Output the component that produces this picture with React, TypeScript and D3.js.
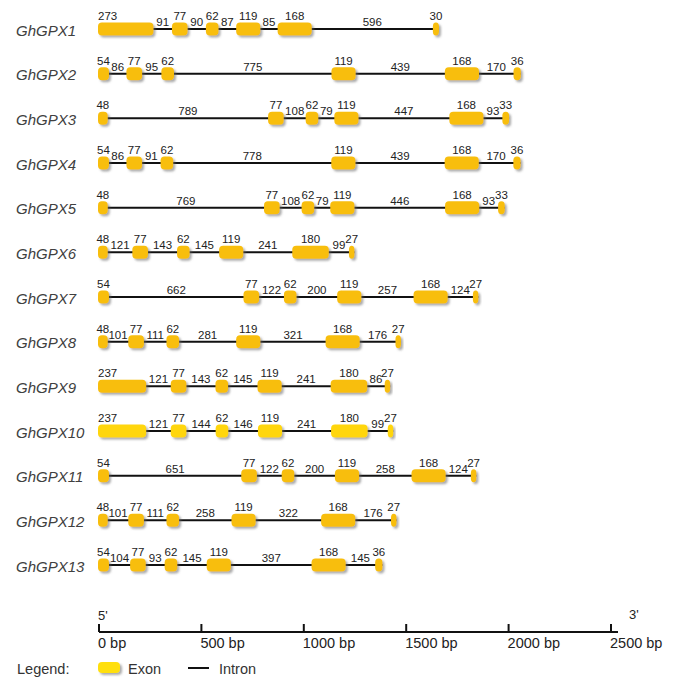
import React from "react";
import * as d3 from "d3";

const geneNames = [
  "GhGPX1", "GhGPX2", "GhGPX3", "GhGPX4", "GhGPX5", "GhGPX6", "GhGPX7",
  "GhGPX8", "GhGPX9", "GhGPX10", "GhGPX11", "GhGPX12", "GhGPX13",
];

// alternating exon / intron lengths (bp), starting and ending with an exon
const GhGPX1 = [273, 91, 77, 90, 62, 87, 119, 85, 168, 596, 30];
const GhGPX2 = [54, 86, 77, 95, 62, 775, 119, 439, 168, 170, 36];
const GhGPX3 = [48, 789, 77, 108, 62, 79, 119, 447, 168, 93, 33];
const GhGPX4 = [54, 86, 77, 91, 62, 778, 119, 439, 168, 170, 36];
const GhGPX5 = [48, 769, 77, 108, 62, 79, 119, 446, 168, 93, 33];
const GhGPX6 = [48, 121, 77, 143, 62, 145, 119, 241, 180, 99, 27];
const GhGPX7 = [54, 662, 77, 122, 62, 200, 119, 257, 168, 124, 27];
const GhGPX8 = [48, 101, 77, 111, 62, 281, 119, 321, 168, 176, 27];
const GhGPX9 = [237, 121, 77, 143, 62, 145, 119, 241, 180, 86, 27];
const GhGPX10 = [237, 121, 77, 144, 62, 146, 119, 241, 180, 99, 27];
const GhGPX11 = [54, 651, 77, 122, 62, 200, 119, 258, 168, 124, 27];
const GhGPX12 = [48, 101, 77, 111, 62, 258, 119, 322, 168, 176, 27];
const GhGPX13 = [54, 104, 77, 93, 62, 145, 119, 397, 168, 145, 36];

const structures = [
  GhGPX1, GhGPX2, GhGPX3, GhGPX4, GhGPX5, GhGPX6, GhGPX7,
  GhGPX8, GhGPX9, GhGPX10, GhGPX11, GhGPX12, GhGPX13,
];

const axisTicks = [0, 500, 1000, 1500, 2000, 2500];
const axisMax = 2500;
const brightGenes = ["GhGPX10"];

const W = 685;
const H = 688;
const FONT = "'Liberation Sans', Arial, sans-serif";
const EXON = "#F8BE0A";
const EXON_BRIGHT = "#FFD60A";

export default function App() {
  const x = d3.scaleLinear().domain([0, axisMax]).range([98, 606]);
  const xa = d3.scaleLinear().domain([0, axisMax]).range([99, 611]);
  const y = d3.scalePoint<string>().domain(geneNames).range([29, 565]);
  const exonH = 13;

  return (
    <svg
      width={W}
      height={H}
      style={{ position: "absolute", left: 0, top: 0, background: "#fff" }}
      fontFamily={FONT}
    >
      <defs>
        <filter id="sh" x="-50%" y="-50%" width="200%" height="200%">
          <feDropShadow dx="2" dy="2" stdDeviation="1.3" floodColor="#666" floodOpacity="0.55" />
        </filter>
      </defs>
      <rect width={W} height={H} fill="#fff" />
      {geneNames.map((g, gi) => {
        const segs = structures[gi];
        const cy = y(g)!;
        const starts: number[] = [];
        let acc = 0;
        segs.forEach((s) => {
          starts.push(acc);
          acc += s;
        });
        const total = acc;
        const fill = brightGenes.includes(g) ? EXON_BRIGHT : EXON;
        return (
          <g key={g}>
            <text
              x={16}
              y={cy + 6.5}
              fontSize={15}
              fontStyle="italic"
              fill="#404040"
            >
              {g}
            </text>
            <line x1={x(0)} x2={x(total)} y1={cy} y2={cy} stroke="#111" strokeWidth={2} />
            {segs.map((len, i) => {
              const x0 = x(starts[i]);
              const x1 = x(starts[i] + len);
              const w = x1 - x0;
              if (i % 2 === 0) {
                const wide = w > 40;
                return (
                  <g key={i}>
                    <rect
                      x={x0}
                      y={cy - exonH / 2}
                      width={w}
                      height={exonH}
                      rx={Math.min(4, w / 2)}
                      ry={4}
                      fill={fill}
                      filter="url(#sh)"
                    />
                    <text
                      x={wide ? x0 : (x0 + x1) / 2}
                      y={cy - 9}
                      fontSize={11.5}
                      textAnchor={wide ? "start" : "middle"}
                      fill="#222"
                    >
                      {len}
                    </text>
                  </g>
                );
              }
              return (
                <text
                  key={i}
                  x={(x0 + x1) / 2}
                  y={cy - 3}
                  fontSize={11.5}
                  textAnchor="middle"
                  fill="#222"
                >
                  {len}
                </text>
              );
            })}
          </g>
        );
      })}

      {/* scale bar */}
      <g>
        <line x1={xa(0)} x2={618} y1={632} y2={632} stroke="#111" strokeWidth={2} />
        {axisTicks.map((t) => (
          <g key={t}>
            <line x1={xa(t)} x2={xa(t)} y1={632} y2={624} stroke="#111" strokeWidth={2} />
            <text x={xa(t) - 1} y={648} fontSize={14.5} fill="#222">
              {`${t} bp`}
            </text>
          </g>
        ))}
        <text x={xa(0) - 1} y={620} fontSize={13} fill="#222">5'</text>
        <text x={629} y={619} fontSize={13} fill="#222">3'</text>
      </g>

      {/* legend */}
      <g>
        <text x={17} y={674} fontSize={14.5} fill="#333">Legend:</text>
        <rect x={98} y={662} width={22} height={11} rx={4} fill="#FFDF10" filter="url(#sh)" />
        <text x={128} y={674} fontSize={14.5} fill="#333">Exon</text>
        <line x1={188} x2={209} y1={668} y2={668} stroke="#111" strokeWidth={2} />
        <text x={219} y={674} fontSize={14.5} fill="#333">Intron</text>
      </g>
    </svg>
  );
}
